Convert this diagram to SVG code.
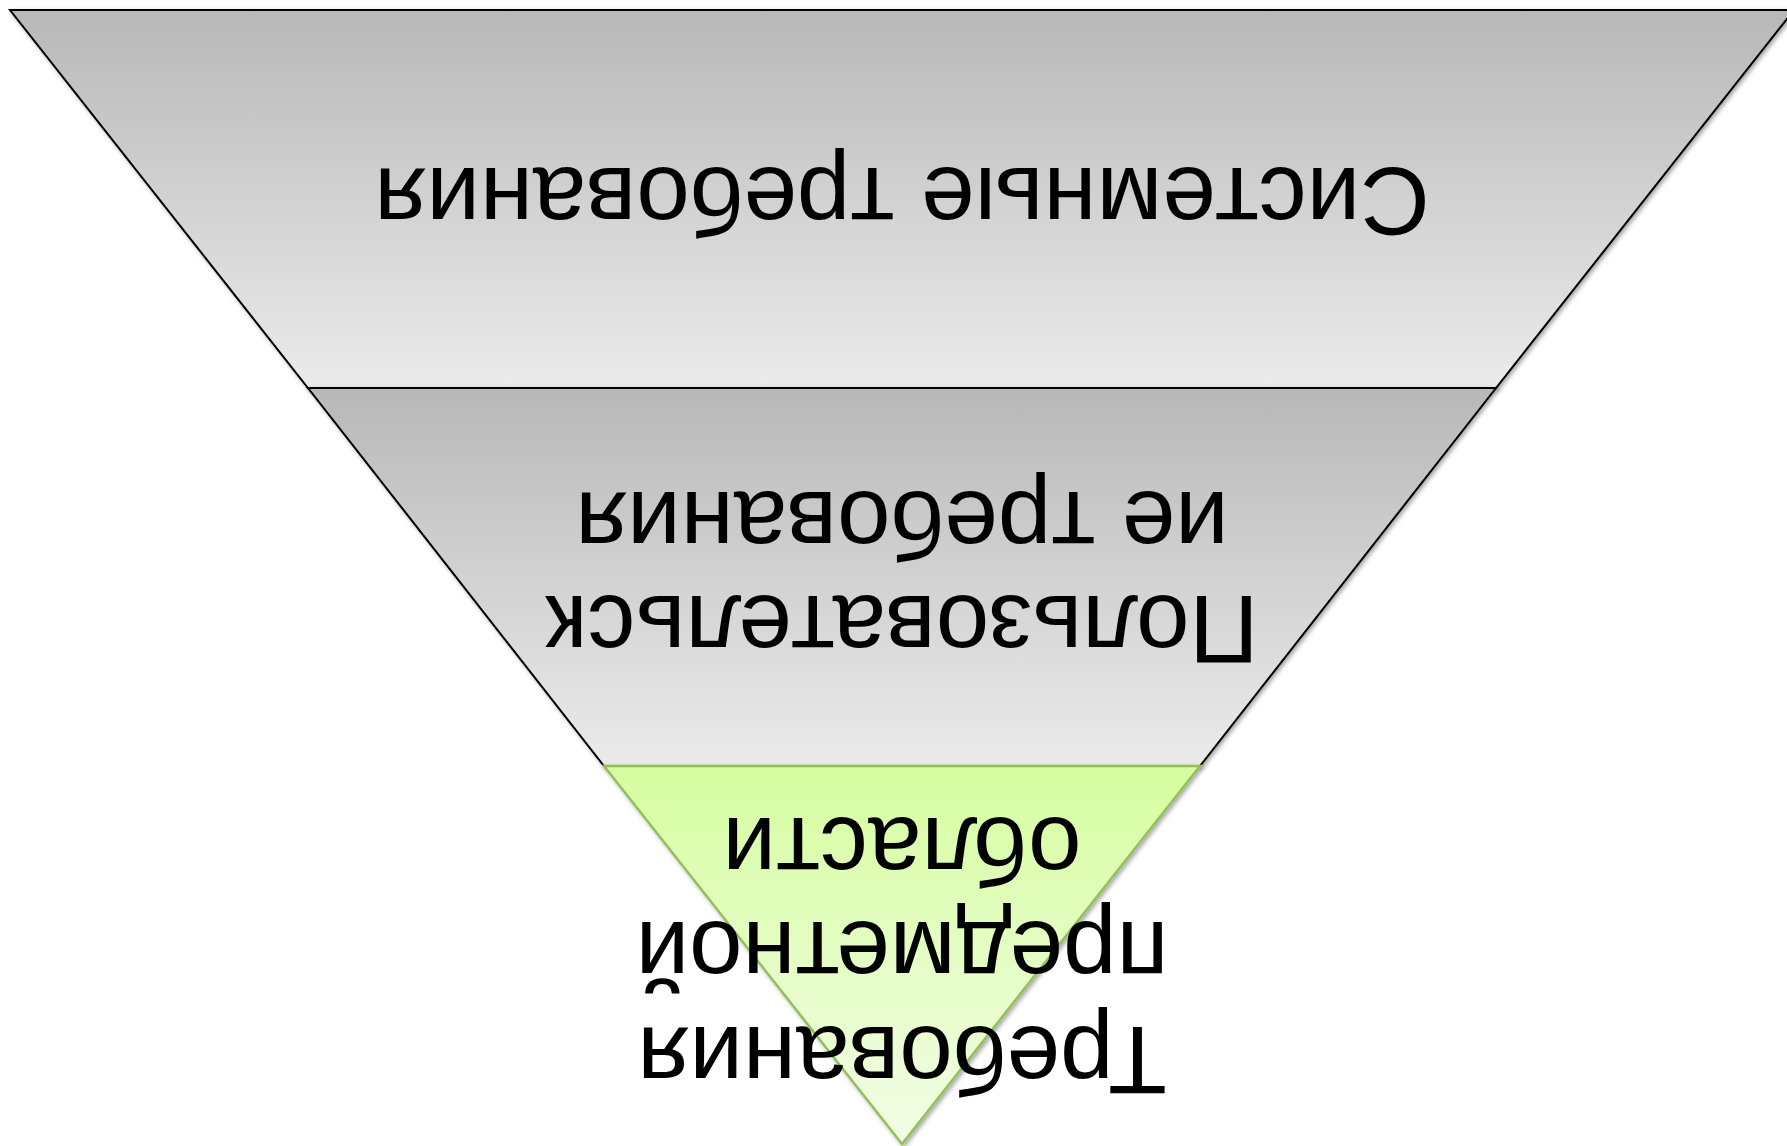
<svg xmlns="http://www.w3.org/2000/svg" width="1787" height="1146" viewBox="0 0 1787 1146">
  <defs>
    <linearGradient id="gray" x1="0" y1="0" x2="0" y2="1">
      <stop offset="0" stop-color="#b8b8b8"/>
      <stop offset="1" stop-color="#ebebeb"/>
    </linearGradient>
    <linearGradient id="green" x1="0" y1="0" x2="0" y2="1">
      <stop offset="0" stop-color="#d6fda0"/>
      <stop offset="1" stop-color="#f3fde7"/>
    </linearGradient>
    <filter id="shadow" x="-5%" y="-5%" width="110%" height="110%">
      <feDropShadow dx="2" dy="2" stdDeviation="2" flood-color="#000" flood-opacity="0.35"/>
    </filter>
  </defs>
  <style>
    .band { fill: url(#gray); stroke: #000; stroke-width: 2; stroke-linejoin: miter; filter: url(#shadow); }
    .tip { fill: url(#green); stroke: #92c05a; stroke-width: 2.5; filter: url(#shadow); }
    .lbl { font-family: "Liberation Sans", Arial, sans-serif; font-size: 96px; fill: #000; text-anchor: middle; }
  </style>
  <rect width="1787" height="1146" fill="#fff"/>
  <g id="node-system">
    <polygon class="band" points="10,10 1794,10 1496,388 308,388"/>
    <text class="lbl" transform="translate(902 168) rotate(180)" x="0" y="0">Системные требования</text>
  </g>
  <g id="node-user">
    <polygon class="band" points="308,388 1496,388 1200,766 604,766"/>
    <text class="lbl" transform="translate(902 596) rotate(180)" x="0" y="0">Пользовательск</text>
    <text class="lbl" transform="translate(902 492) rotate(180)" x="0" y="0">ие требования</text>
  </g>
  <g id="node-domain">
    <polygon class="tip" points="604,766 1200,766 902,1144"/>
    <text class="lbl" transform="translate(902 1027) rotate(180)" x="0" y="0">Требования</text>
    <text class="lbl" transform="translate(902 922) rotate(180)" x="0" y="0">предметной</text>
    <text class="lbl" transform="translate(902 818) rotate(180)" x="0" y="0">области</text>
  </g>
  <g id="connectors"/>
</svg>
